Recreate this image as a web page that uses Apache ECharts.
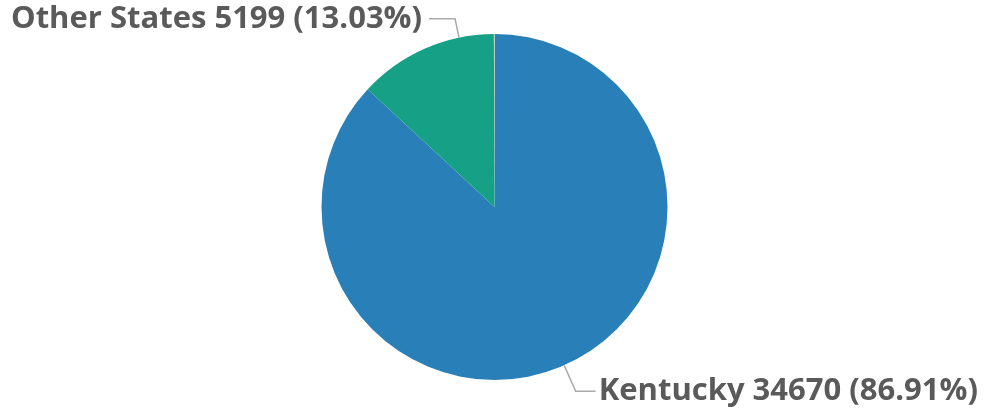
<!DOCTYPE html>
<html><head><meta charset="utf-8">
<script src="https://cdn.jsdelivr.net/npm/echarts@6/dist/echarts.min.js"></script>
<style>html,body{margin:0;padding:0;background:#fff}#c{width:989px;height:411px}</style>
</head><body><div id="c"></div>
<script>
const names = ['Kentucky', 'Other States', 'Unknown'];
const values = [34670, 5199, 23];
const colors = ['#2980b9', '#16a085', '#e3d09a'];
const showLabel = [true, true, false];
const labelShiftX = [2, 30, 0];
const labelShiftY = [12, -16, 0];
const lineGap = [3, 7, 0];
const lineLen2 = [20, 26, 0];
const PIE_R = 173;
const PIE_CY = 207;

const chart = echarts.init(document.getElementById('c'), null, {renderer: 'canvas'});
chart.setOption({
  animation: false,
  series: [{
    type: 'pie',
    center: ['50%', PIE_CY],
    radius: PIE_R,
    startAngle: 90,
    clockwise: true,
    avoidLabelOverlap: true,
    label: {
      show: true,
      formatter: '{b} {c} ({d}%)',
      fontFamily: 'Open Sans',
      fontWeight: 'bold',
      fontSize: 31,
      color: '#5a5a5a',
      overflow: 'none'
    },
    labelLine: { length: 15, length2: 22, lineStyle: { color: '#aaaaaa', width: 1.5 } },
    labelLayout: function (p) {
      const r = p.labelRect;
      const cx = chart.getWidth() / 2, cy = PIE_CY;
      const left = r.x + r.width / 2 < cx;
      const i = p.dataIndex;
      const x = (left ? r.x + r.width : r.x) + labelShiftX[i];
      const y = r.y + r.height / 2 + labelShiftY[i];
      const sx = left ? 1 : -1;
      const p0 = [x + sx * lineGap[i], y];
      const p1 = [p0[0] + sx * lineLen2[i], y];
      const dx = p1[0] - cx, dy = p1[1] - cy, d = Math.hypot(dx, dy);
      const p2 = [cx + dx * PIE_R / d, cy + dy * PIE_R / d];
      return {
        x: x, y: y,
        align: left ? 'right' : 'left',
        verticalAlign: 'middle',
        labelLinePoints: [p2, p1, p0]
      };
    },
    data: names.map((n, i) => ({
      name: n, value: values[i],
      itemStyle: { color: colors[i] },
      label: { show: showLabel[i] },
      labelLine: { show: showLabel[i] }
    }))
  }]
});
</script></body></html>
